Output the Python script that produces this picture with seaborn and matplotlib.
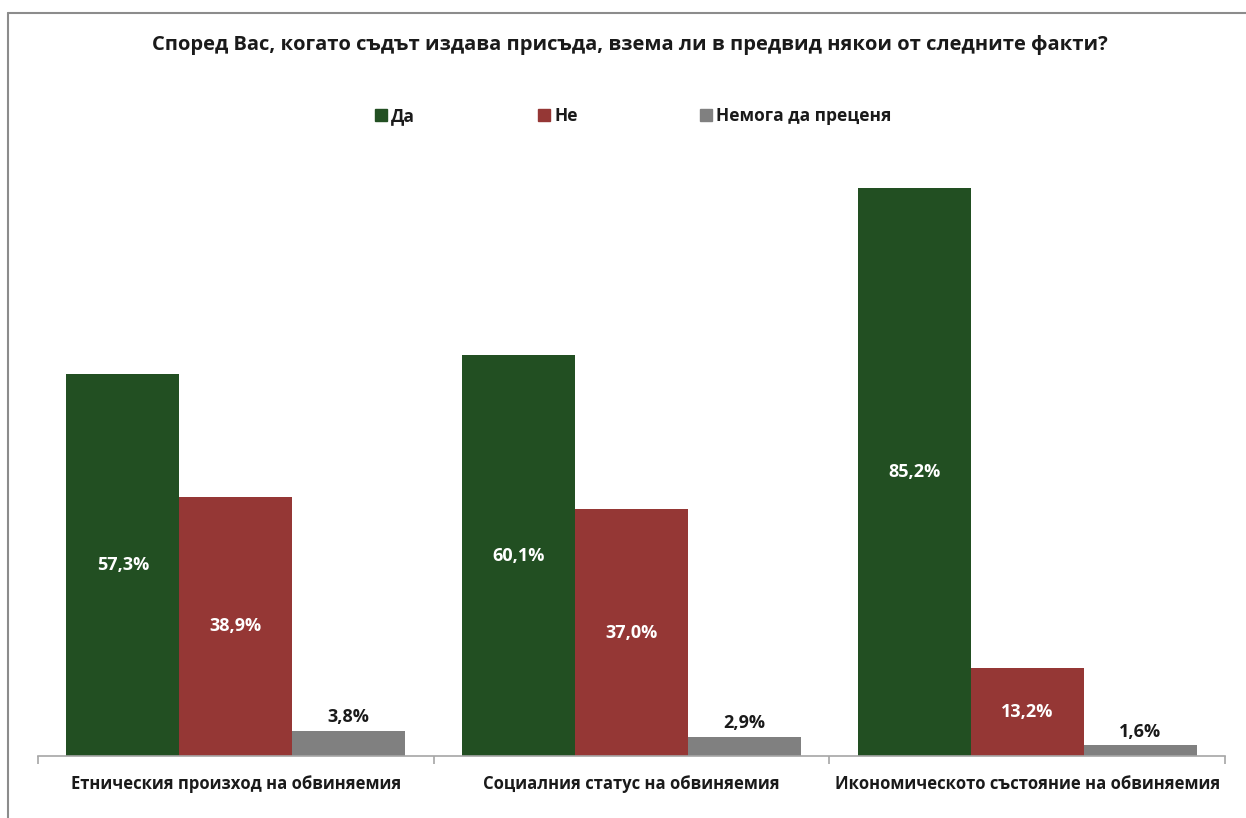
import matplotlib
matplotlib.use("Agg")
import matplotlib.pyplot as plt
from matplotlib.lines import Line2D
import seaborn as sns
import pandas as pd

categories = ["Етническия произход на обвиняемия",
              "Социалния статус на обвиняемия",
              "Икономическото състояние на обвиняемия"]
series_names = ["Да", "Не", "Немога да преценя"]
da = [57.3, 60.1, 85.2]
ne = [38.9, 37.0, 13.2]
nemoga = [3.8, 2.9, 1.6]
colors = ["#224F22", "#953735", "#808080"]
title = "Според Вас, когато съдът издава присъда, взема ли в предвид някои от следните факти?"

sns.set_theme(style="white")
plt.rcParams['font.family'] = ['Open Sans', 'DejaVu Sans']

rows = []
for i, c in enumerate(categories):
    for s, vals in zip(series_names, [da, ne, nemoga]):
        rows.append({"cat": c, "series": s, "value": vals[i]})
df = pd.DataFrame(rows)

fig = plt.figure(figsize=(12.46, 8.18), dpi=100)
ax = fig.add_axes([38/1246, 62/818, 1187/1246, 600/818])
sns.barplot(data=df, x="cat", y="value", hue="series", order=categories,
            hue_order=series_names, palette=colors, width=0.856,
            saturation=1, ax=ax, legend=False, linewidth=0)

ax.set_ylim(0, 90)
ax.set_xlim(-0.5, 2.5)
ax.set_xlabel("")
ax.set_ylabel("")
ax.set_yticks([])
for sp in ["top", "left", "right"]:
    ax.spines[sp].set_visible(False)
ax.spines["bottom"].set_color("#A6A6A6")
ax.spines["bottom"].set_linewidth(1.2)
ax.set_xticks([-0.5, 0.5, 1.5, 2.5], minor=True)
ax.tick_params(axis="x", which="major", bottom=False, length=0, pad=14)
ax.tick_params(axis="x", which="minor", bottom=True, length=6, color="#A6A6A6",
               width=1.2, direction="out")
for lbl in ax.get_xticklabels():
    lbl.set_fontweight("bold")
    lbl.set_fontsize(12)
    lbl.set_color("#1a1a1a")

for ci, cont in enumerate(ax.containers):
    for bar in cont:
        h = bar.get_height()
        txt = f"{h:.1f}".replace(".", ",") + "%"
        x = bar.get_x() + bar.get_width() / 2
        if ci < 2:
            ax.text(x, h / 2, txt, ha="center", va="center", color="white",
                    fontsize=13, fontweight="bold")
        else:
            ax.text(x, h + 0.7, txt, ha="center", va="bottom", color="#1a1a1a",
                    fontsize=13, fontweight="bold")

fig.text(630/1246, 1 - 45/818, title, ha="center", va="center",
         fontsize=14.5, fontweight="bold", color="#1a1a1a")

handles = [Line2D([0], [0], marker="s", linestyle="", markersize=9,
                  markerfacecolor=c, markeredgecolor=c) for c in colors]
leg = fig.legend(handles, series_names, loc="center", ncol=3,
                 bbox_to_anchor=(632/1246, 1 - 116/818), frameon=False,
                 handletextpad=0.1, columnspacing=6.9, handlelength=1.0,
                 prop={"weight": "bold", "size": 12.5})
for t in leg.get_texts():
    t.set_color("#1a1a1a")

# figure border (top and left visible)
fig.add_artist(Line2D([8/1246, 1], [1 - 13/818, 1 - 13/818], color="#8C8C8C", lw=1.5,
                      transform=fig.transFigure))
fig.add_artist(Line2D([8/1246, 8/1246], [0, 1 - 13/818], color="#8C8C8C", lw=1.5,
                      transform=fig.transFigure))

fig.savefig("out.png", dpi=100, facecolor="white")
